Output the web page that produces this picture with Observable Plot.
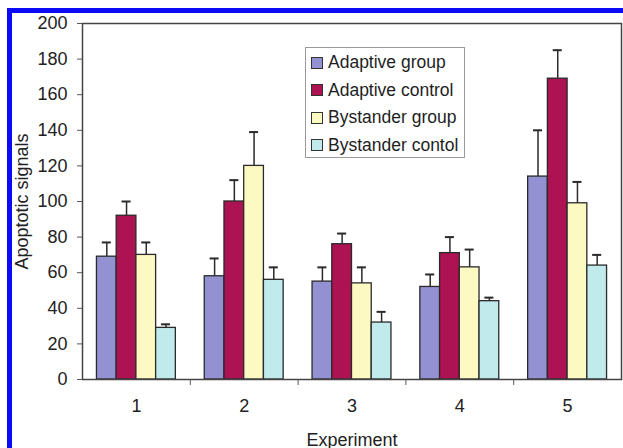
<!DOCTYPE html>
<html>
<head>
<meta charset="utf-8">
<script src="https://cdn.jsdelivr.net/npm/d3@7"></script>
<script src="https://cdn.jsdelivr.net/npm/@observablehq/plot@0.6"></script>
<style>
  html, body { margin: 0; padding: 0; background: #fff; }
  #wrap { position: relative; width: 623px; height: 448px; overflow: hidden; background: #fff; }
  #wrap svg { position: absolute; left: 0; top: 0; font-family: "Liberation Sans", Arial, sans-serif; }
  #border { position: absolute; left: 7px; top: 8px; width: 700px; height: 600px; border-left: 5px solid #0a0af5; border-top: 5px solid #0a0af5; pointer-events: none; }
  #legend { position: absolute; left: 305px; top: 47px; width: 160px; height: 111px; box-sizing: border-box;
            border: 1px solid #9a9a9a; background: #fff; padding-top: 1px;
            font-family: "Liberation Sans", Arial, sans-serif; font-size: 17.5px; color: #1e1e1e; }
  #legend .row { display: flex; align-items: center; height: 27.5px; }
  #legend .sw { width: 10px; height: 10px; border: 1px solid #333; margin-left: 5px; margin-right: 5px; flex: none; }
</style>
</head>
<body>
<div id="wrap"></div>
<script>
const experiments = [1, 2, 3, 4, 5];
const series = ["Adaptive group", "Adaptive control", "Bystander group", "Bystander contol"];
const colors = ["#9491d2", "#ad1252", "#fdf9c2", "#c0eaec"];

const adaptiveGroup      = [69, 58, 55, 52, 114];
const adaptiveGroupErr   = [8, 10, 8, 7, 26];
const adaptiveControl    = [92, 100, 76, 71, 169];
const adaptiveControlErr = [8, 12, 6, 9, 16];
const bystanderGroup     = [70, 120, 54, 63, 99];
const bystanderGroupErr  = [7, 19, 9, 10, 12];
const bystanderControl   = [29, 56, 32, 44, 64];
const bystanderControlErr= [2, 7, 6, 2, 6];

const yTicks = [0, 20, 40, 60, 80, 100, 120, 140, 160, 180, 200];
const groupBoundaries = [1.5, 2.5, 3.5, 4.5];

const values = [adaptiveGroup, adaptiveControl, bystanderGroup, bystanderControl];
const errors = [adaptiveGroupErr, adaptiveControlErr, bystanderGroupErr, bystanderControlErr];

// layout of the clustered bars within each experiment slot (in x-data units)
const groupPad = 0.134;
const barW = (1 - 2 * groupPad) / series.length;
const capHalf = 0.042;

const rows = [];
experiments.forEach((e, j) => {
  series.forEach((s, i) => {
    const x1 = e - 0.5 + groupPad + i * barW;
    rows.push({experiment: e, series: s, value: values[i][j], err: errors[i][j],
               x1, x2: x1 + barW, xc: x1 + barW / 2});
  });
});

const chart = Plot.plot({
  width: 623,
  height: 448,
  marginLeft: 82,
  marginRight: 2,
  marginTop: 23,
  marginBottom: 69,
  style: {fontFamily: "Liberation Sans, Arial, sans-serif", color: "#222", background: "transparent"},
  x: {type: "linear", domain: [0.5, 5.5]},
  y: {domain: [0, 200]},
  color: {domain: series, range: colors},
  marks: [
    Plot.rect(rows, {x1: "x1", x2: "x2", y1: 0, y2: "value", fill: "series", stroke: "#2a2a2a", strokeWidth: 1.3}),
    Plot.ruleX(rows, {x: "xc", y1: "value", y2: d => d.value + d.err, stroke: "#2a2a2a", strokeWidth: 1.5}),
    Plot.ruleY(rows, {y: d => d.value + d.err, x1: d => d.xc - capHalf, x2: d => d.xc + capHalf, stroke: "#2a2a2a", strokeWidth: 2}),
    Plot.frame({stroke: "#444", strokeWidth: 1.5}),
    Plot.axisY({ticks: yTicks, tickSize: 5, tickPadding: 10, fontSize: 18, stroke: "#555",
                label: "Apoptotic signals", labelAnchor: "center", labelOffset: 67, labelArrow: "none"}),
    Plot.axisX({ticks: experiments, tickSize: 0, tickPadding: 20, fontSize: 18, tickFormat: d => String(d),
                label: "Experiment", labelAnchor: "center", labelOffset: 66, labelArrow: "none"}),
    Plot.axisX({ticks: groupBoundaries, tickSize: 6, tickFormat: () => "", stroke: "#555", label: null})
  ]
});

const wrap = document.getElementById("wrap");
wrap.appendChild(chart);

const border = document.createElement("div");
border.id = "border";
wrap.appendChild(border);

const legend = document.createElement("div");
legend.id = "legend";
series.forEach((s, i) => {
  const row = document.createElement("div");
  row.className = "row";
  const sw = document.createElement("span");
  sw.className = "sw";
  sw.style.background = colors[i];
  const t = document.createElement("span");
  t.textContent = s;
  row.appendChild(sw);
  row.appendChild(t);
  legend.appendChild(row);
});
wrap.appendChild(legend);
</script>
</body>
</html>
